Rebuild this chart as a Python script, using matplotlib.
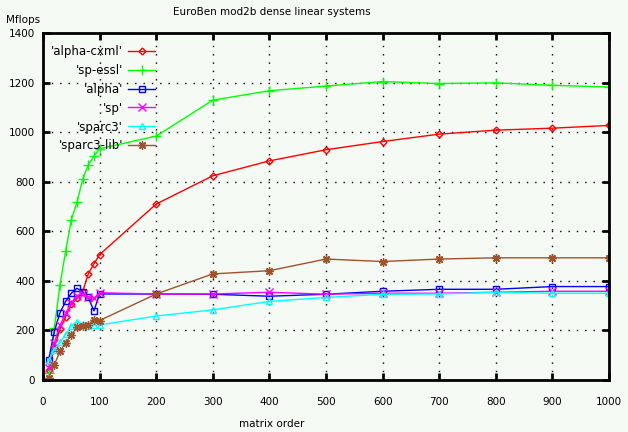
import matplotlib
matplotlib.use("Agg")
import matplotlib.pyplot as plt

# matrix orders
orders = [10, 20, 30, 40, 50, 60, 70, 80, 90, 100,
          200, 300, 400, 500, 600, 700, 800, 900, 1000]

# Mflops per system
alpha_cxml = [40, 130, 205, 255, 305, 330, 356, 428, 469, 506,
              710, 824, 884, 929, 962, 992, 1008, 1016, 1027]
sp_essl = [27, 208, 384, 520, 645, 717, 809, 868, 903, 933,
           984, 1129, 1167, 1186, 1204, 1196, 1199, 1189, 1182]
alpha = [82, 195, 272, 317, 350, 370, 356, 333, 279, 347,
         347, 346, 338, 346, 358, 366, 366, 377, 377]
sp = [50, 150, 220, 270, 310, 340, 347, 333, 330, 352,
      347, 347, 354, 346, 350, 350, 354, 358, 358]
sparc3 = [80, 122, 152, 184, 218, 236, 226, 218, 222, 222,
          258, 283, 317, 333, 346, 347, 354, 350, 350]
sparc3_lib = [10, 62, 115, 150, 182, 212, 218, 222, 244, 240,
              347, 428, 441, 488, 478, 488, 493, 493, 493]

labels = ["'alpha-cxml'", "'sp-essl'", "'alpha'", "'sp'", "'sparc3'", "'sparc3-lib'"]
series = [alpha_cxml, sp_essl, alpha, sp, sparc3, sparc3_lib]
colors = ['#ff0000', '#00ff00', '#0000ff', '#ff00ff', '#00ffff', '#a0522d']
markers = ['D', '+', 's', 'x', '^', (8, 2, 0)]
msizes = [3.5, 7, 5, 6, 5, 6]

bg = '#f5faf5'
plt.rcParams['font.family'] = 'DejaVu Sans'
plt.rcParams['font.size'] = 7.5

fig = plt.figure(figsize=(6.28, 4.32), dpi=100, facecolor=bg)
ax = fig.add_axes([43 / 628, 1 - 380 / 432, 566 / 628, 347 / 432])
ax.set_facecolor(bg)

for ys, lab, c, m, ms in zip(series, labels, colors, markers, msizes):
    ax.plot(orders, ys, color=c, lw=1, marker=m, markersize=ms,
            markerfacecolor='none', markeredgecolor=c, markeredgewidth=1,
            label=lab)

ax.set_xlim(0, 1000)
ax.set_ylim(0, 1400)
ax.set_xticks(range(0, 1001, 100))
ax.set_yticks(range(0, 1401, 200))
ax.grid(True, color='black', linestyle=(0, (1, 5)), lw=1)
ax.tick_params(direction='in', length=5, width=2, top=True, right=True,
               labeltop=False, labelright=False)
ax.tick_params(axis='x', pad=12)
ax.tick_params(axis='y', pad=6)
for s in ax.spines.values():
    s.set_linewidth(2)

leg = ax.legend(loc='upper right', bbox_to_anchor=(161 / 628, 1 - 39 / 432),
                bbox_transform=fig.transFigure, frameon=False, markerfirst=False,
                handlelength=2.3, labelspacing=0.5, borderpad=0, handletextpad=0.4,
                numpoints=1, fontsize=8.5)
leg.set_zorder(5)

fig.text(272 / 628, 1 - 12 / 432, 'EuroBen mod2b dense linear systems',
         ha='center', va='center')
fig.text(6 / 628, 1 - 20 / 432, 'Mflops', ha='left', va='center')
fig.text(272 / 628, 1 - 424 / 432, 'matrix order', ha='center', va='center')

fig.savefig('out.png', dpi=100, facecolor=bg)
